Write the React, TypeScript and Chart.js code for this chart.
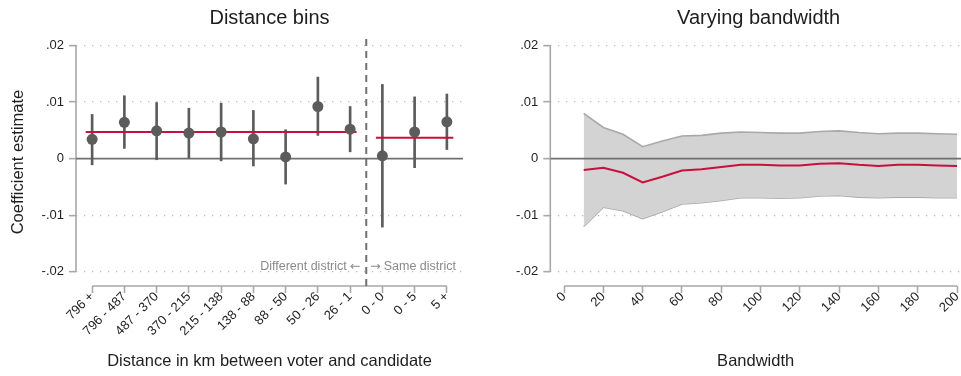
import React, { useEffect, useRef } from "react";
import { Chart, registerables } from "chart.js";

Chart.register(...registerables);

// ---------- data ----------
const binLabels = [
  "796 +", "796 - 487", "487 - 370", "370 - 215", "215 - 138", "138 - 88",
  "88 - 50", "50 - 26", "26 - 1", "0 - 0", "0 - 5", "5 +",
];
const binEstimates = [0.0034, 0.0064, 0.0049, 0.0045, 0.0047, 0.0035, 0.0003, 0.0092, 0.0052, 0.0005, 0.0047, 0.0065];
const binLower = [-0.0011, 0.0018, -0.0002, 0.0001, -0.0004, -0.0013, -0.0045, 0.0041, 0.0012, -0.0121, -0.0016, 0.0016];
const binUpper = [0.0078, 0.0111, 0.0099, 0.0089, 0.0098, 0.0085, 0.0051, 0.0144, 0.0092, 0.0131, 0.0109, 0.0114];
const pooledDifferent = 0.0047;
const pooledSame = 0.0037;
const pooledDifferentRange = [0.8, 9.2];
const pooledSameRange = [9.8, 12.2];
const dividerAt = 9.5;

const bandwidths = [10, 20, 30, 40, 50, 60, 70, 80, 90, 100, 110, 120, 130, 140, 150, 160, 170, 180, 190, 200];
const bwEstimate = [-0.0020, -0.0016, -0.0025, -0.0042, -0.0032, -0.0021, -0.0019, -0.0015, -0.0011, -0.0011, -0.0012, -0.0012, -0.0009, -0.0008, -0.0011, -0.0013, -0.0011, -0.0011, -0.0012, -0.0013];
const bwUpper = [0.0080, 0.0055, 0.0043, 0.0021, 0.0031, 0.0040, 0.0041, 0.0045, 0.0047, 0.0046, 0.0045, 0.0045, 0.0048, 0.0049, 0.0046, 0.0044, 0.0045, 0.0045, 0.0044, 0.0043];
const bwLower = [-0.0120, -0.0086, -0.0092, -0.0106, -0.0094, -0.0080, -0.0078, -0.0074, -0.0069, -0.0069, -0.0070, -0.0069, -0.0066, -0.0065, -0.0068, -0.0069, -0.0068, -0.0068, -0.0069, -0.0069];

const yTicks = [-0.02, -0.01, 0, 0.01, 0.02];
const bwTicks = [0, 20, 40, 60, 80, 100, 120, 140, 160, 180, 200];

const yMin = -0.0225;
const yMax = 0.0213;

// ---------- styles ----------
const FONT = "'Liberation Sans', Arial, Helvetica, sans-serif";
const ARROW_FONT = "'DejaVu Sans', sans-serif";
const TEXT = "#1e1e1e";
const AXIS = "#a8a8a8";
const GRID = "#bcbcbc";
const DARK = "#5c5c5c";
const ZERO = "#707070";
const RED = "#c8103e";
const BAND = "#d3d3d3";
const BAND_EDGE = "#a9a9a9";
const NOTE = "#8a8a8a";

const fmtTick = (v: number) =>
  v === 0 ? "0" : (v < 0 ? "-" : "") + Math.abs(v).toFixed(2).slice(1);

function framePlugin(title: string, notes: boolean, titleShift: number) {
  return {
    id: "frame",
    beforeDatasetsDraw(chart: any) {
      const { ctx, chartArea } = chart;
      const x = chart.scales.x;
      const y = chart.scales.y;
      ctx.save();
      ctx.strokeStyle = AXIS;
      ctx.lineWidth = 1.6;
      ctx.beginPath();
      ctx.moveTo(chartArea.left, y.getPixelForValue(yTicks[yTicks.length - 1]));
      ctx.lineTo(chartArea.left, y.getPixelForValue(yTicks[0]));
      const xt = x.ticks;
      ctx.moveTo(x.getPixelForValue(xt[0].value), chartArea.bottom);
      ctx.lineTo(x.getPixelForValue(xt[xt.length - 1].value), chartArea.bottom);
      ctx.stroke();
      ctx.restore();
    },
    afterDraw(chart: any) {
      const { ctx, chartArea } = chart;
      const x = chart.scales.x;
      const y = chart.scales.y;
      ctx.save();
      ctx.fillStyle = TEXT;
      ctx.font = `20px ${FONT}`;
      ctx.textAlign = "center";
      ctx.textBaseline = "alphabetic";
      ctx.fillText(title, (chartArea.left + chartArea.right) / 2 + titleShift, 23.5);
      if (notes) {
        ctx.fillStyle = NOTE;
        const bx = x.getPixelForValue(dividerAt);
        const by = y.getPixelForValue(yTicks[0]) - 1.5;
        // left note: "Different district ←"
        ctx.textAlign = "right";
        ctx.font = `12.5px ${ARROW_FONT}`;
        const arrowEnd = bx - 6;
        ctx.fillText("\u2190", arrowEnd, by);
        const aw = ctx.measureText("\u2190").width;
        ctx.font = `12.5px ${FONT}`;
        ctx.fillText("Different district", arrowEnd - aw - 3, by);
        // right note: "→ Same district"
        ctx.textAlign = "left";
        ctx.font = `12.5px ${ARROW_FONT}`;
        const arrowStart = bx + 4;
        ctx.fillText("\u2192", arrowStart, by);
        const bw = ctx.measureText("\u2192").width;
        ctx.font = `12.5px ${FONT}`;
        ctx.fillText("Same district", arrowStart + bw + 3, by);
      }
      ctx.restore();
    },
  };
}

function yScale(width: number, withTitle: boolean) {
  return {
    type: "linear",
    min: yMin,
    max: yMax,
    afterBuildTicks: (s: any) => {
      s.ticks = yTicks.map((v) => ({ value: v }));
    },
    afterFit: (s: any) => {
      s.width = width;
      s.paddingTop = 0;
      s.paddingBottom = 0;
    },
    grid: {
      color: (c: any) => (c.tick && c.tick.value === 0 ? "rgba(0,0,0,0)" : GRID),
      lineWidth: 1.3,
      borderDash: [1.3, 6.7],
      tickColor: AXIS,
      tickLength: 7,
      tickWidth: 1.6,
      tickBorderDash: [],
    },
    border: { display: false, dash: [1.3, 6.7] },
    ticks: {
      callback: (v: number) => fmtTick(v),
      font: { family: FONT, size: 13 },
      color: TEXT,
      padding: 5,
    },
    title: {
      display: withTitle,
      text: "Coefficient estimate",
      font: { family: FONT, size: 16.5 },
      color: TEXT,
      padding: { top: 8.5, bottom: 0 },
    },
  };
}

function xScale(min: number, max: number, values: number[], labels: string[], titleText: string) {
  return {
    type: "linear",
    min,
    max,
    offset: false,
    afterBuildTicks: (s: any) => {
      s.ticks = values.map((v) => ({ value: v }));
    },
    afterFit: (s: any) => {
      s.height = 90;
      s.paddingLeft = 0;
      s.paddingRight = 0;
    },
    grid: {
      drawOnChartArea: false,
      drawTicks: true,
      offset: false,
      tickLength: 7,
      tickColor: AXIS,
      tickWidth: 1.6,
      tickBorderDash: [],
    },
    border: { display: false },
    ticks: {
      autoSkip: false,
      maxRotation: 45,
      minRotation: 45,
      callback: (_v: number, i: number) => labels[i],
      font: { family: FONT, size: 13 },
      color: TEXT,
      padding: -4,
    },
    title: {
      display: true,
      text: titleText,
      font: { family: FONT, size: 16.5 },
      color: TEXT,
      padding: { top: 0, bottom: 5 },
    },
  };
}

const baseOptions = {
  animation: false,
  responsive: false,
  devicePixelRatio: 1,
  events: [],
  plugins: {
    legend: { display: false },
    tooltip: { enabled: false },
    title: { display: false },
  },
};

function leftConfig(): any {
  return {
    type: "scatter",
    data: {
      datasets: [
        {
          type: "line",
          label: "zero",
          data: [{ x: 0.5, y: 0 }, { x: 12.5, y: 0 }],
          borderColor: ZERO,
          borderWidth: 1.6,
          pointRadius: 0,
          order: 6,
        },
        {
          type: "line",
          label: "divider",
          data: [{ x: dividerAt, y: yMin }, { x: dividerAt, y: yMax }],
          borderColor: ZERO,
          borderWidth: 2,
          borderDash: [7, 5],
          pointRadius: 0,
          order: 5,
        },
        {
          type: "bar",
          label: "CI",
          data: binLabels.map((_, i) => ({ x: i + 1, y: [binLower[i], binUpper[i]] })),
          backgroundColor: DARK,
          borderWidth: 0,
          barThickness: 2,
          order: 4,
        },
        {
          type: "line",
          label: "Different district",
          data: pooledDifferentRange.map((x) => ({ x, y: pooledDifferent })),
          borderColor: RED,
          borderWidth: 2,
          pointRadius: 0,
          order: 3,
        },
        {
          type: "line",
          label: "Same district",
          data: pooledSameRange.map((x) => ({ x, y: pooledSame })),
          borderColor: RED,
          borderWidth: 2,
          pointRadius: 0,
          order: 3,
        },
        {
          type: "line",
          label: "Estimate",
          data: binEstimates.map((v, i) => ({ x: i + 1, y: v })),
          showLine: false,
          pointRadius: 5.5,
          pointBackgroundColor: DARK,
          pointBorderWidth: 0,
          order: 1,
        },
      ],
    },
    options: {
      ...baseOptions,
      layout: { padding: { top: 38, right: 17, left: 0, bottom: 0 } },
      scales: {
        x: xScale(0.5, 12.5, binLabels.map((_, i) => i + 1), binLabels, "Distance in km between voter and candidate"),
        y: yScale(76, true),
      },
    },
    plugins: [framePlugin("Distance bins", true, 0)],
  };
}

function rightConfig(): any {
  return {
    type: "scatter",
    data: {
      datasets: [
        {
          type: "line",
          label: "upper",
          data: bandwidths.map((b, i) => ({ x: b, y: bwUpper[i] })),
          borderColor: BAND_EDGE,
          borderWidth: 1.6,
          backgroundColor: BAND,
          fill: "+1",
          pointRadius: 0,
          tension: 0,
          order: 4,
        },
        {
          type: "line",
          label: "lower",
          data: bandwidths.map((b, i) => ({ x: b, y: bwLower[i] })),
          borderColor: BAND_EDGE,
          borderWidth: 1.6,
          fill: false,
          pointRadius: 0,
          tension: 0,
          order: 4,
        },
        {
          type: "line",
          label: "zero",
          data: [{ x: -7, y: 0 }, { x: 202, y: 0 }],
          borderColor: ZERO,
          borderWidth: 1.6,
          pointRadius: 0,
          order: 2,
        },
        {
          type: "line",
          label: "estimate",
          data: bandwidths.map((b, i) => ({ x: b, y: bwEstimate[i] })),
          borderColor: RED,
          borderWidth: 2,
          pointRadius: 0,
          tension: 0,
          order: 1,
        },
      ],
    },
    options: {
      ...baseOptions,
      layout: { padding: { top: 38, right: 0, left: 0, bottom: 0 } },
      scales: {
        x: xScale(-7, 202, bwTicks, bwTicks.map(String), "Bandwidth"),
        y: yScale(70.3, false),
      },
    },
    plugins: [framePlugin("Varying bandwidth", false, 3)],
  };
}

export default function App() {
  const leftRef = useRef<HTMLCanvasElement>(null);
  const rightRef = useRef<HTMLCanvasElement>(null);
  useEffect(() => {
    const left = new Chart(leftRef.current as HTMLCanvasElement, leftConfig());
    const right = new Chart(rightRef.current as HTMLCanvasElement, rightConfig());
    return () => {
      left.destroy();
      right.destroy();
    };
  }, []);
  return (
    <div style={{ position: "absolute", left: 0, top: 0, width: 961, height: 376, background: "#fff" }}>
      <canvas ref={leftRef} width={480} height={376} style={{ position: "absolute", left: 0, top: 0, width: 480, height: 376 }} />
      <canvas ref={rightRef} width={481} height={376} style={{ position: "absolute", left: 480, top: 0, width: 481, height: 376 }} />
    </div>
  );
}
